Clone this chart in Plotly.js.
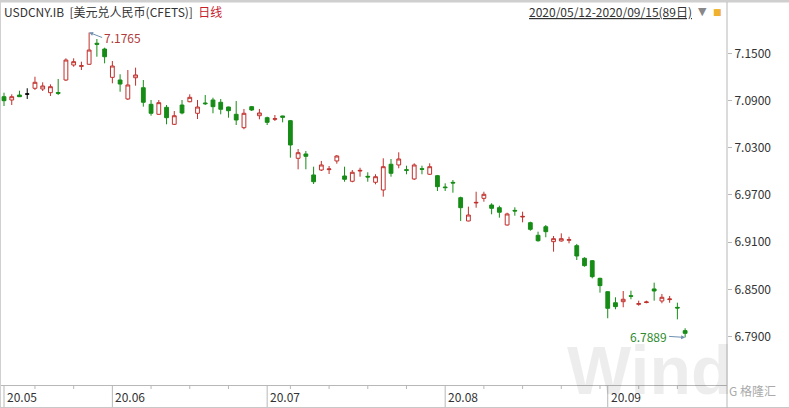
<!DOCTYPE html>
<html><head><meta charset="utf-8">
<script src="https://cdn.plot.ly/plotly-3.0.1.min.js"></script>
<style>html,body{margin:0;padding:0;background:#fff;}#chart{width:789px;height:408px;}</style>
</head><body><div id="chart"></div>
<script>
const dates = [
 '2020-05-12','2020-05-13','2020-05-14','2020-05-15','2020-05-18','2020-05-19','2020-05-20','2020-05-21','2020-05-22','2020-05-25','2020-05-26','2020-05-27','2020-05-28','2020-05-29',
 '2020-06-01','2020-06-02','2020-06-03','2020-06-04','2020-06-05','2020-06-08','2020-06-09','2020-06-10','2020-06-11','2020-06-12','2020-06-15','2020-06-16','2020-06-17','2020-06-18','2020-06-19','2020-06-22','2020-06-23','2020-06-24','2020-06-29','2020-06-30',
 '2020-07-01','2020-07-02','2020-07-03','2020-07-06','2020-07-07','2020-07-08','2020-07-09','2020-07-10','2020-07-13','2020-07-14','2020-07-15','2020-07-16','2020-07-17','2020-07-20','2020-07-21','2020-07-22','2020-07-23','2020-07-24','2020-07-27','2020-07-28','2020-07-29','2020-07-30','2020-07-31',
 '2020-08-03','2020-08-04','2020-08-05','2020-08-06','2020-08-07','2020-08-10','2020-08-11','2020-08-12','2020-08-13','2020-08-14','2020-08-17','2020-08-18','2020-08-19','2020-08-20','2020-08-21','2020-08-24','2020-08-25','2020-08-26','2020-08-27','2020-08-28','2020-08-31',
 '2020-09-01','2020-09-02','2020-09-03','2020-09-04','2020-09-07','2020-09-08','2020-09-09','2020-09-10','2020-09-11','2020-09-14','2020-09-15'];
const open = [7.0949,7.0907,7.0970,7.0983,7.1056,7.1047,7.1000,7.1002,7.1161,7.1352,7.1335,7.1361,7.1628,7.1555,7.1195,7.1161,7.0920,7.1190,7.1063,7.0852,7.0725,7.0814,7.0598,7.0843,7.0885,7.0738,7.0869,7.0907,7.0878,7.0818,7.0725,7.0555,7.0822,7.0707,7.0682,7.0662,7.0704,7.0644,7.0166,7.0221,6.9954,7.0017,7.0022,7.0132,6.9941,6.9874,7.0004,6.9937,6.9861,6.9763,7.0090,7.0081,7.0021,6.9903,7.0034,6.9963,6.9945,6.9801,6.9860,6.9665,6.9369,6.9598,6.9657,6.9572,6.9538,6.9318,6.9504,6.9420,6.9347,6.9187,6.9296,6.9106,6.9115,6.9124,6.9055,6.8895,6.8864,6.8640,6.8470,6.8330,6.8343,6.8419,6.8310,6.8332,6.8505,6.8352,6.8370,6.8271,6.7975];
const high = [7.1000,7.0979,7.1025,7.1056,7.1203,7.1132,7.1106,7.1174,7.1437,7.1437,7.1394,7.1765,7.1682,7.1572,7.1403,7.1234,7.1288,7.1318,7.1161,7.0907,7.0907,7.0843,7.0767,7.0907,7.0979,7.0907,7.0970,7.0936,7.0920,7.0822,7.0894,7.0793,7.0831,7.0793,7.0695,7.0716,7.0707,7.0653,7.0284,7.0259,7.0059,7.0132,7.0068,7.0208,7.0059,7.0017,7.0046,6.9988,6.9963,7.0166,7.0157,7.0242,7.0072,7.0102,7.0072,7.0102,6.9954,6.9848,6.9890,6.9678,6.9551,6.9741,6.9741,6.9594,6.9563,6.9474,6.9543,6.9487,6.9360,6.9233,6.9318,6.9178,6.9212,6.9169,6.9077,6.8908,6.8873,6.8648,6.8475,6.8399,6.8479,6.8483,6.8356,6.8356,6.8585,6.8441,6.8416,6.8330,6.8005];
const low = [7.0831,7.0843,7.0945,7.0920,7.1034,7.1021,7.0958,7.0970,7.1148,7.1330,7.1288,7.1355,7.1457,7.1373,7.1119,7.1012,7.0907,7.1089,7.0822,7.0707,7.0716,7.0598,7.0589,7.0725,7.0878,7.0665,7.0843,7.0738,7.0725,7.0682,7.0589,7.0535,7.0767,7.0662,7.0589,7.0640,7.0623,7.0174,7.0026,7.0026,6.9839,7.0004,6.9966,7.0097,6.9868,6.9861,6.9932,6.9868,6.9835,6.9678,6.9932,7.0039,6.9963,6.9890,6.9963,6.9954,6.9750,6.9750,6.9729,6.9369,6.9365,6.9538,6.9614,6.9454,6.9411,6.9309,6.9436,6.9352,6.9245,6.9106,6.9162,6.8979,6.9106,6.9085,6.8873,6.8788,6.8640,6.8458,6.8132,6.8247,6.8272,6.8374,6.8292,6.8323,6.8356,6.8323,6.8330,6.8119,6.7889];
const close = [7.0898,7.0949,7.0949,7.0983,7.1132,7.1085,7.1076,7.0992,7.1415,7.1394,7.1343,7.1542,7.1615,7.1457,7.1339,7.1110,7.1098,7.1225,7.0878,7.0738,7.0873,7.0682,7.0707,7.0742,7.0941,7.0818,7.0860,7.0822,7.0789,7.0771,7.0653,7.0738,7.0780,7.0742,7.0623,7.0669,7.0687,7.0335,7.0237,7.0191,6.9868,7.0081,7.0030,7.0195,6.9899,6.9988,7.0012,6.9928,6.9932,7.0059,6.9975,7.0157,7.0013,7.0081,7.0026,7.0059,6.9805,6.9793,6.9852,6.9538,6.9445,6.9605,6.9708,6.9530,6.9480,6.9458,6.9496,6.9427,6.9263,6.9118,6.9233,6.9144,6.9144,6.9131,6.8924,6.8801,6.8661,6.8547,6.8259,6.8280,6.8374,6.8412,6.8318,6.8339,6.8479,6.8399,6.8377,6.8263,6.7941];

const monthStarts = ['2020-05-12','2020-06-01','2020-07-01','2020-08-03','2020-09-01'];
const monthLabels = ['20.05','20.06','20.07','20.08','20.09'];
const weekTicks = ['2020-05-18','2020-05-25','2020-06-08','2020-06-15','2020-06-22','2020-07-06','2020-07-13','2020-07-20','2020-07-27','2020-08-10','2020-08-17','2020-08-24','2020-08-31','2020-09-07','2020-09-14'];
const yTicks = [6.79,6.85,6.91,6.97,7.03,7.09,7.15];
const titleMain = 'USDCNY.IB  [美元兑人民币(CFETS)]';
const titleFreq = '日线';
const dateRange = '2020/05/12-2020/09/15(89日)';
const maxLabel = '7.1765', minLabel = '6.7889';

const RED = '#c0302c', GREEN = '#168c16', AXIS = '#b8b8b8', TXT = '#333333';
const FONT = '"Noto Sans CJK SC", "Noto Sans", sans-serif';

// split equal-open/close (doji) candles into a black trace
const idxMain = [], idxDoji = [];
dates.forEach((d, i) => (open[i] === close[i] ? idxDoji : idxMain).push(i));
const pick = (arr, idx) => idx.map(i => arr[i]);

const main = {
  type: 'candlestick', x: pick(dates, idxMain), open: pick(open, idxMain), high: pick(high, idxMain),
  low: pick(low, idxMain), close: pick(close, idxMain),
  increasing: {line: {color: RED, width: 1}, fillcolor: '#ffffff'},
  decreasing: {line: {color: GREEN, width: 1}, fillcolor: GREEN},
  whiskerwidth: 0, hoverinfo: 'skip', showlegend: false
};
const doji = {
  type: 'candlestick', x: pick(dates, idxDoji), open: pick(open, idxDoji), high: pick(high, idxDoji),
  low: pick(low, idxDoji), close: pick(close, idxDoji),
  increasing: {line: {color: '#000', width: 1}, fillcolor: '#000'},
  decreasing: {line: {color: '#000', width: 1}, fillcolor: '#000'},
  whiskerwidth: 0, hoverinfo: 'skip', showlegend: false
};

const iMax = high.indexOf(Math.max(...high));
const iMin = low.indexOf(Math.min(...low));

// pixel helpers for paper coords (plot area: top 3px, bottom 385px)
const py = p => (385 - p) / 382;

const shapes = [];
monthStarts.forEach(d => shapes.push({type: 'line', xref: 'x', yref: 'paper', x0: d, x1: d, y0: 0, y1: py(408), line: {color: AXIS, width: 1}}));
weekTicks.forEach(d => shapes.push({type: 'line', xref: 'x', yref: 'paper', x0: d, x1: d, y0: 0, y1: py(389), line: {color: AXIS, width: 1}}));
shapes.push({type: 'rect', xref: 'paper', yref: 'paper', x0: 0, x1: 789 / 727, y0: py(0), y1: py(2.5), fillcolor: '#cfcfcf', line: {width: 0}});
shapes.push({type: 'line', xref: 'paper', yref: 'paper', x0: 0.0007, x1: 0.0007, y0: py(408), y1: py(2), line: {color: '#d0d0d0', width: 1}});
shapes.push({type: 'line', xref: 'paper', yref: 'paper', x0: 0, x1: 789 / 727, y0: py(407.5), y1: py(407.5), line: {color: '#c8c8c8', width: 1}});
shapes.push({type: 'line', xref: 'paper', yref: 'paper', x0: 1, x1: 1, y0: py(408), y1: py(2), line: {color: AXIS, width: 1}});

const annotations = [];
// watermark first so other texts sit on top
annotations.push({xref: 'paper', yref: 'paper', x: 650 / 727, y: py(370), xanchor: 'center', yanchor: 'middle', showarrow: false,
  text: 'Wind', font: {family: 'Liberation Sans', size: 68, color: 'rgba(0,0,0,0.07)', weight: 'bold'}});
monthStarts.forEach((d, k) => annotations.push({xref: 'x', yref: 'paper', x: d, y: py(396), text: monthLabels[k], showarrow: false, xanchor: 'left', yanchor: 'middle', xshift: 1, font: {family: FONT, size: 12, color: TXT}}));
annotations.push({xref: 'paper', yref: 'paper', x: 2 / 727, y: py(11), xanchor: 'left', yanchor: 'middle', showarrow: false,
  text: titleMain + '  <span style="color:#c8202a">' + titleFreq + '</span>', font: {family: FONT, size: 12, color: TXT}});
annotations.push({xref: 'paper', yref: 'paper', x: 694 / 727, y: py(11), xanchor: 'right', yanchor: 'middle', showarrow: false,
  text: '<span style="text-decoration:underline">' + dateRange + '</span>', font: {family: FONT, size: 12, color: TXT}});
annotations.push({xref: 'paper', yref: 'paper', x: 702 / 727, y: py(11), xanchor: 'center', yanchor: 'middle', showarrow: false,
  text: '▼', font: {family: 'DejaVu Sans', size: 11, color: '#888888'}});
annotations.push({xref: 'paper', yref: 'paper', x: 717 / 727, y: py(12), xanchor: 'center', yanchor: 'middle', showarrow: false,
  text: '■', font: {family: 'DejaVu Sans', size: 9, color: '#f0b030'}});
annotations.push({xref: 'paper', yref: 'paper', x: 752 / 727, y: py(390), xanchor: 'center', yanchor: 'middle', showarrow: false,
  text: 'G 格隆汇', font: {family: FONT, size: 12, color: '#aaaaaa'}});
// max / min labels
annotations.push({xref: 'x', yref: 'y', x: dates[iMax], y: high[iMax], text: maxLabel, showarrow: true, arrowhead: 2, arrowsize: 0.8, arrowwidth: 1,
  arrowcolor: '#6f8fb0', ax: 13, ay: 5, xanchor: 'left', yanchor: 'middle', font: {family: FONT, size: 12, color: '#b03a3a'}});
annotations.push({xref: 'x', yref: 'y', x: dates[iMin], y: low[iMin], text: minLabel, showarrow: true, arrowhead: 2, arrowsize: 0.8, arrowwidth: 1,
  arrowcolor: '#6f8fb0', ax: -16, ay: -1, xanchor: 'right', yanchor: 'middle', font: {family: FONT, size: 12, color: '#2e8b2e'}});

const layout = {
  width: 789, height: 408,
  margin: {l: 0, r: 62, t: 3, b: 23, pad: 0},
  paper_bgcolor: '#ffffff', plot_bgcolor: '#ffffff',
  font: {family: FONT, size: 12, color: TXT},
  showlegend: false, dragmode: false, hovermode: false,
  xaxis: {type: 'category', categoryorder: 'array', categoryarray: dates, range: [-0.5168, 93.41],
    showticklabels: false, ticks: '', showgrid: false, zeroline: false, showline: true, linecolor: AXIS, linewidth: 1,
    rangeslider: {visible: false}, fixedrange: true},
  yaxis: {side: 'right', range: [6.7284, 7.2140], tickmode: 'array', tickvals: yTicks, tickformat: '.4f',
    ticks: 'outside', ticklen: 4, tickcolor: AXIS, showgrid: false, zeroline: false, showline: false,
    tickfont: {family: FONT, size: 12, color: TXT}, fixedrange: true},
  shapes: shapes, annotations: annotations
};

Plotly.newPlot('chart', [main, doji], layout, {displayModeBar: false, staticPlot: true});
</script>
</body></html>
